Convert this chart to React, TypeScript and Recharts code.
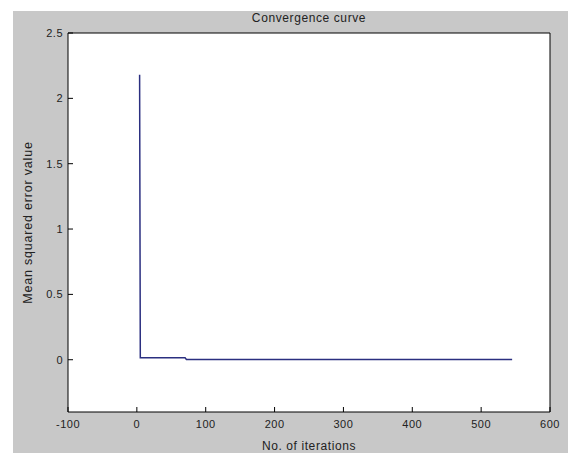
import { LineChart, Line, XAxis, YAxis } from "recharts";

const iterations = [4, 5, 70, 72, 545];
const mseValues = [2.18, 0.015, 0.015, 0.002, 0.002];
const xTicks = [-100, 0, 100, 200, 300, 400, 500, 600];
const yTicks = [0, 0.5, 1, 1.5, 2, 2.5];

const data = iterations.map((it, i) => ({ it, mse: mseValues[i] }));

const font = "'Liberation Sans', Arial, sans-serif";
const tickStyle = { fontSize: 11, fill: "#222", fontFamily: font, letterSpacing: 0.5 };

export default function App() {
  return (
    <div style={{ position: "absolute", left: 0, top: 0, width: 571, height: 453, background: "#fff" }}>
      <div style={{ position: "absolute", left: 13, top: 11, width: 555, height: 442, background: "#c8c8c8" }} />
      <div
        style={{
          position: "absolute",
          left: 68,
          width: 482,
          top: 11,
          textAlign: "center",
          fontFamily: font,
          fontSize: 12,
          letterSpacing: 0.6,
          color: "#222",
        }}
      >
        Convergence curve
      </div>
      <div style={{ position: "absolute", left: 0, top: 0 }}>
        <LineChart width={571} height={453} data={data} margin={{ top: 33, right: 21, bottom: 1, left: 28 }}>
          <rect x={68} y={33} width={482} height={379} fill="#fff" />
          <XAxis
            dataKey="it"
            type="number"
            domain={[-100, 600]}
            ticks={xTicks}
            allowDataOverflow
            height={40}
            tickSize={-5}
            tickMargin={13}
            tick={tickStyle}
            stroke="#000"
            label={{ value: "No. of iterations", position: "insideBottom", offset: 2, style: { fontSize: 12, fill: "#222", fontFamily: font, letterSpacing: 0.6 } }}
          />
          <XAxis
            xAxisId="top"
            orientation="top"
            type="number"
            domain={[-100, 600]}
            ticks={xTicks}
            mirror
            tick={false}
            tickSize={5}
            stroke="#000"
          />
          <YAxis
            type="number"
            domain={[-0.4, 2.5]}
            ticks={yTicks}
            allowDataOverflow
            width={40}
            tickSize={-5}
            tickMargin={10}
            tick={tickStyle}
            stroke="#000"
            label={{ value: "Mean squared error value", angle: -90, position: "insideLeft", offset: 0, style: { textAnchor: "middle", fontSize: 12.5, fill: "#222", fontFamily: font, letterSpacing: 0.8 } }}
          />
          <YAxis
            yAxisId="right"
            orientation="right"
            type="number"
            domain={[-0.4, 2.5]}
            ticks={yTicks}
            mirror
            tick={false}
            tickSize={5}
            stroke="#000"
          />
          <Line
            dataKey="mse"
            stroke="#2b2f80"
            strokeWidth={1.5}
            dot={false}
            isAnimationActive={false}
          />
        </LineChart>
      </div>
    </div>
  );
}
